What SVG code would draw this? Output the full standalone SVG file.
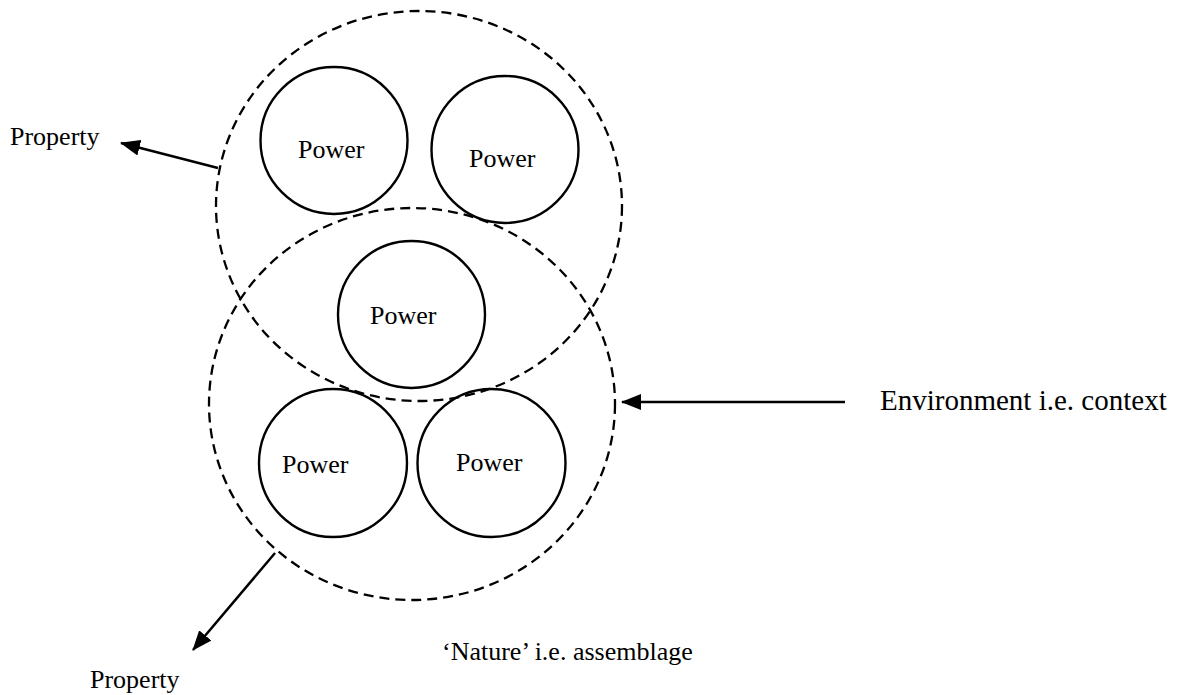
<svg xmlns="http://www.w3.org/2000/svg" width="1180" height="695" viewBox="0 0 1180 695">
  <style>
    text { font-family: "Liberation Serif", "Times New Roman", serif; fill: #000; }
    .label { font-size: 26px; }
    .env { font-size: 29px; }
    .power { fill: none; stroke: #000; stroke-width: 2.4; }
    .group { fill: none; stroke: #000; stroke-width: 2.3; stroke-dasharray: 10 6; }
    .conn { fill: none; stroke: #000; stroke-width: 2.5; }
  </style>
  <defs>
    <marker id="arrow" markerUnits="userSpaceOnUse" markerWidth="22" markerHeight="16" refX="19" refY="8" orient="auto">
      <path d="M0,0 L20,8 L0,16 Z" fill="#000"/>
    </marker>
  </defs>
  <rect width="1180" height="695" fill="#fff"/>

  <!-- dashed groupings: property (upper) and environment (lower) -->
  <g id="upper-group">
    <ellipse class="group" cx="419" cy="206" rx="203" ry="195"/>
  </g>
  <g id="lower-group">
    <ellipse class="group" cx="412" cy="404" rx="203" ry="196"/>
  </g>

  <!-- powers -->
  <g id="power-1">
    <circle class="power" cx="334" cy="140.5" r="73.5"/>
    <text class="label" x="298" y="158">Power</text>
  </g>
  <g id="power-2">
    <circle class="power" cx="505" cy="149.5" r="73.5"/>
    <text class="label" x="469" y="167">Power</text>
  </g>
  <g id="power-3">
    <circle class="power" cx="411.5" cy="314.5" r="73.5"/>
    <text class="label" x="370" y="324">Power</text>
  </g>
  <g id="power-4">
    <circle class="power" cx="333" cy="463" r="74"/>
    <text class="label" x="282" y="473">Power</text>
  </g>
  <g id="power-5">
    <circle class="power" cx="491.5" cy="463" r="74"/>
    <text class="label" x="456" y="471">Power</text>
  </g>

  <!-- outer labels -->
  <g id="property-top">
    <text class="label" x="10" y="145">Property</text>
  </g>
  <g id="property-bottom">
    <text class="label" x="90" y="688">Property</text>
  </g>
  <g id="environment">
    <text class="env" x="880" y="410">Environment i.e. context</text>
  </g>
  <g id="nature">
    <text class="label" x="442" y="660">‘Nature’ i.e. assemblage</text>
  </g>

  <!-- connectors -->
  <g id="connectors">
    <line class="conn" x1="218" y1="168" x2="121" y2="143" marker-end="url(#arrow)"/>
    <line class="conn" x1="275" y1="553" x2="193" y2="650" marker-end="url(#arrow)"/>
    <line class="conn" x1="845" y1="402" x2="622" y2="402" marker-end="url(#arrow)"/>
  </g>
</svg>
